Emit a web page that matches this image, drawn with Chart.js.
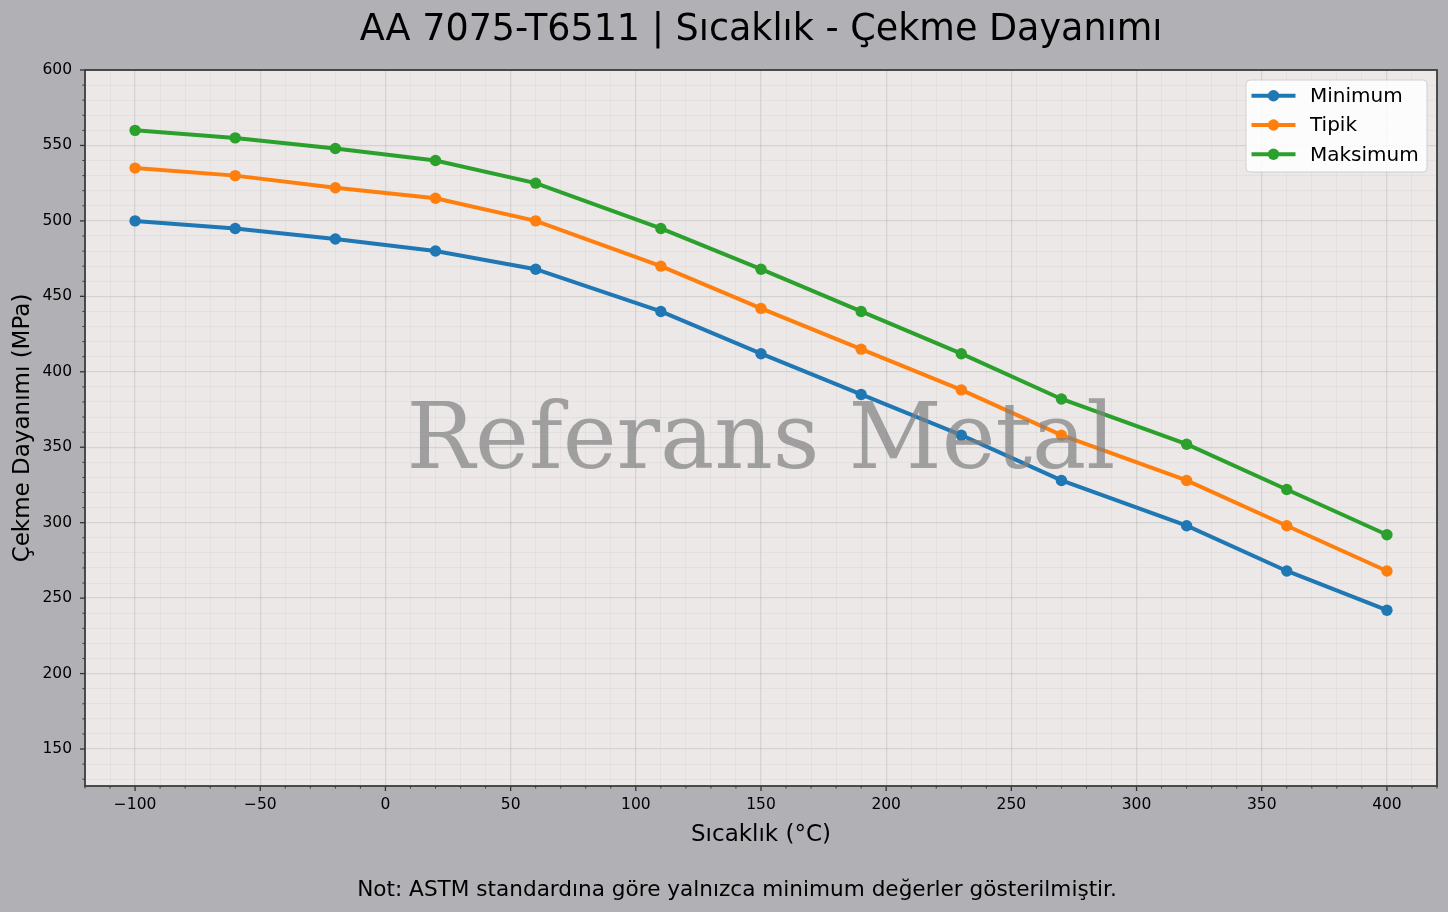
<!DOCTYPE html>
<html lang="tr">
<head>
<meta charset="utf-8">
<title>AA 7075-T6511 | Sıcaklık - Çekme Dayanımı</title>
<script src="https://cdn.jsdelivr.net/npm/chart.js@4.4.1/dist/chart.umd.min.js"></script>
<style>
  html, body { margin: 0; padding: 0; background: #b1b0b5; }
  #wrap { width: 1448px; height: 912px; }
</style>
</head>
<body>
<div id="wrap"><canvas id="chart" width="1448" height="912"></canvas></div>
<script>
// -------------------- DATA --------------------
const temperatures = [-100, -60, -20, 20, 60, 110, 150, 190, 230, 270, 320, 360, 400];
const minimumValues = [500, 495, 488, 480, 468, 440, 412, 385, 358, 328, 298, 268, 242];
const typicalValues = [535, 530, 522, 515, 500, 470, 442, 415, 388, 358, 328, 298, 268];
const maximumValues = [560, 555, 548, 540, 525, 495, 468, 440, 412, 382, 352, 322, 292];
const seriesNames = ["Minimum", "Tipik", "Maksimum"];
const seriesColors = ["#1f77b4", "#ff7f0e", "#2ca02c"];

const xMajorTicks = [-100, -50, 0, 50, 100, 150, 200, 250, 300, 350, 400];
const yMajorTicks = [150, 200, 250, 300, 350, 400, 450, 500, 550, 600];
const minorStep = 10;

const chartTitle = "AA 7075-T6511 | Sıcaklık - Çekme Dayanımı";
const xTitle = "Sıcaklık (°C)";
const yTitle = "Çekme Dayanımı (MPa)";
const footnote = "Not: ASTM standardına göre yalnızca minimum değerler gösterilmiştir.";
const watermark = "Referans Metal";

const X_MIN = -120, X_MAX = 420;
const Y_MIN = 125.5, Y_MAX = 600;

// -------------------- HELPERS --------------------
function stepValues(from, to, step) {
  const out = [];
  for (let v = Math.ceil(from / step) * step; v <= to; v += step) out.push(v);
  return out;
}
const xAllTicks = stepValues(X_MIN, X_MAX, minorStep);
const yAllTicks = stepValues(Y_MIN, Y_MAX, minorStep);
const fmt = (v) => (v < 0 ? "\u2212" + Math.abs(v) : String(v));
const toPoints = (values) => temperatures.map((t, i) => ({ x: t, y: values[i] }));

const MAJOR_GRID = "rgba(0,0,0,0.09)";
const MINOR_GRID = "rgba(0,0,0,0.04)";

Chart.defaults.font.family = "'DejaVu Sans', sans-serif";
Chart.defaults.color = "#000";

// -------------------- PLUGINS --------------------
const backdrop = {
  id: "backdrop",
  beforeDraw(chart) {
    const { ctx, chartArea: a } = chart;
    ctx.save();
    ctx.fillStyle = "#b1b0b5";
    ctx.fillRect(0, 0, chart.width, chart.height);
    ctx.fillStyle = "#ebe8e7";
    ctx.fillRect(a.left, a.top, a.right - a.left, a.bottom - a.top);
    ctx.restore();
  },
};

const watermarkText = {
  id: "watermarkText",
  afterDatasetsDraw(chart) {
    const { ctx, chartArea: a } = chart;
    ctx.save();
    ctx.font = "91px 'DejaVu Serif', serif";
    ctx.fillStyle = "rgba(128,128,128,0.7)";
    ctx.textAlign = "center";
    ctx.textBaseline = "alphabetic";
    ctx.fillText(watermark, (a.left + a.right) / 2, (a.top + a.bottom) / 2 + 40);
    ctx.restore();
  },
};

const frameAndTicks = {
  id: "frameAndTicks",
  afterDraw(chart) {
    const { ctx, chartArea: a } = chart;
    const xs = chart.scales.x, ys = chart.scales.y;
    ctx.save();
    ctx.strokeStyle = "#333";
    xAllTicks.forEach((v) => {
      const major = xMajorTicks.includes(v);
      const px = xs.getPixelForValue(v);
      ctx.lineWidth = major ? 1.3 : 1;
      ctx.beginPath();
      ctx.moveTo(px, a.bottom);
      ctx.lineTo(px, a.bottom + (major ? 5 : 2.5));
      ctx.stroke();
    });
    yAllTicks.forEach((v) => {
      const major = yMajorTicks.includes(v);
      const py = ys.getPixelForValue(v);
      ctx.lineWidth = major ? 1.3 : 1;
      ctx.beginPath();
      ctx.moveTo(a.left, py);
      ctx.lineTo(a.left - (major ? 5 : 2.5), py);
      ctx.stroke();
    });
    ctx.strokeStyle = "#3c3c3c";
    ctx.lineWidth = 1.8;
    ctx.strokeRect(a.left, a.top, a.right - a.left, a.bottom - a.top);
    ctx.restore();
  },
};

const footnoteText = {
  id: "footnoteText",
  afterDraw(chart) {
    const { ctx } = chart;
    ctx.save();
    ctx.font = "21.6px 'DejaVu Sans', sans-serif";
    ctx.fillStyle = "#000";
    ctx.textAlign = "center";
    ctx.textBaseline = "alphabetic";
    ctx.fillText(footnote, chart.width / 2 + 13, chart.height - 16);
    ctx.restore();
  },
};

const lineLegend = {
  id: "lineLegend",
  afterDraw(chart) {
    const { ctx, chartArea: a } = chart;
    const w = 181, h = 92;
    const x0 = a.right - 10 - w, y0 = a.top + 10;
    ctx.save();
    ctx.beginPath();
    ctx.roundRect(x0, y0, w, h, 4);
    ctx.fillStyle = "rgba(255,255,255,0.85)";
    ctx.fill();
    ctx.strokeStyle = "#d0d0d0";
    ctx.lineWidth = 1;
    ctx.stroke();
    ctx.font = "20px 'DejaVu Sans', sans-serif";
    ctx.textBaseline = "middle";
    chart.data.datasets.forEach((ds, i) => {
      const cy = y0 + 15.7 + i * 29.3;
      ctx.strokeStyle = ds.borderColor;
      ctx.lineWidth = 4;
      ctx.beginPath();
      ctx.moveTo(x0 + 5.5, cy);
      ctx.lineTo(x0 + 49.5, cy);
      ctx.stroke();
      ctx.fillStyle = ds.borderColor;
      ctx.beginPath();
      ctx.arc(x0 + 27.5, cy, 5.7, 0, Math.PI * 2);
      ctx.fill();
      ctx.fillStyle = "#000";
      ctx.fillText(ds.label, x0 + 64, cy + 1);
    });
    ctx.restore();
  },
};

// -------------------- CHART --------------------
const seriesValues = [minimumValues, typicalValues, maximumValues];

new Chart(document.getElementById("chart"), {
  type: "line",
  data: {
    datasets: seriesValues.map((vals, i) => ({
      label: seriesNames[i],
      data: toPoints(vals),
      borderColor: seriesColors[i],
      backgroundColor: seriesColors[i],
      pointBackgroundColor: seriesColors[i],
      borderWidth: 4,
      pointRadius: 5.7,
      pointBorderWidth: 0,
      tension: 0,
      fill: false,
    })),
  },
  options: {
    responsive: false,
    animation: false,
    layout: { padding: { left: 0, right: 11, top: 0, bottom: 46 } },
    plugins: {
      legend: { display: false },
      tooltip: { enabled: false },
      title: {
        display: true,
        fullSize: false,
        text: chartTitle,
        color: "#000",
        font: { size: 36.5, weight: "normal" },
        padding: { top: 8.5, bottom: 17.7 },
      },
    },
    scales: {
      x: {
        type: "linear",
        min: X_MIN,
        max: X_MAX,
        afterBuildTicks: (s) => { s.ticks = xAllTicks.map((v) => ({ value: v })); },
        afterFit: (s) => { s.height = 80; },
        ticks: {
          autoSkip: false,
          maxRotation: 0,
          padding: 10,
          font: { size: 15.5 },
          color: "#000",
          callback: (v) => (xMajorTicks.includes(v) ? fmt(v) : ""),
        },
        grid: {
          drawTicks: false,
          color: (c) => (xMajorTicks.includes(c.tick.value) ? MAJOR_GRID : MINOR_GRID),
          lineWidth: (c) => (xMajorTicks.includes(c.tick.value) ? 1.3 : 0.9),
        },
        border: { display: false },
        title: {
          display: true,
          text: xTitle,
          color: "#000",
          font: { size: 23 },
          padding: { top: 0, bottom: 17 },
        },
      },
      y: {
        type: "linear",
        min: Y_MIN,
        max: Y_MAX,
        afterBuildTicks: (s) => { s.ticks = yAllTicks.map((v) => ({ value: v })); },
        afterFit: (s) => { s.width = 85; },
        ticks: {
          autoSkip: false,
          padding: 13,
          font: { size: 15.5 },
          color: "#000",
          callback: (v) => (yMajorTicks.includes(v) ? fmt(v) : ""),
        },
        grid: {
          drawTicks: false,
          color: (c) => (yMajorTicks.includes(c.tick.value) ? MAJOR_GRID : MINOR_GRID),
          lineWidth: (c) => (yMajorTicks.includes(c.tick.value) ? 1.3 : 0.9),
        },
        border: { display: false },
        title: {
          display: true,
          text: yTitle,
          color: "#000",
          font: { size: 23 },
          padding: { top: 9, bottom: 0 },
        },
      },
    },
  },
  plugins: [backdrop, watermarkText, frameAndTicks, footnoteText, lineLegend],
});
</script>
</body>
</html>
